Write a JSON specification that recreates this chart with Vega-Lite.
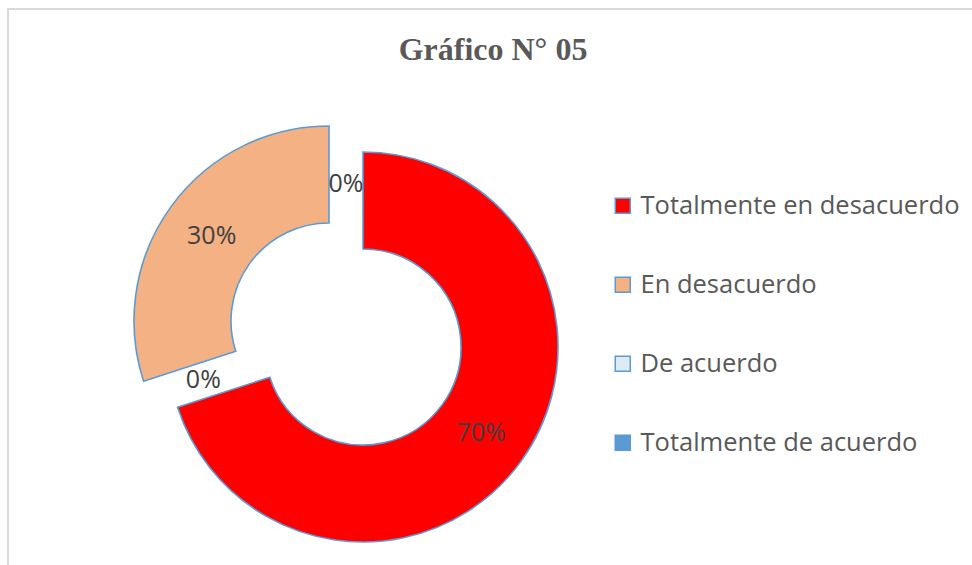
{
  "$schema": "https://vega.github.io/schema/vega-lite/v6.json",
  "width": 970,
  "height": 570,
  "autosize": {"type": "none"},
  "padding": {"left": 8, "top": 9, "right": 0, "bottom": 0},
  "background": "white",
  "config": {
    "view": {"stroke": null},
    "legend": {"symbolOpacity": 1}
  },
  "title": {
    "text": "Gráfico N° 05",
    "font": "Liberation Serif",
    "fontSize": 32,
    "fontWeight": "bold",
    "color": "#595959",
    "anchor": "middle",
    "baseline": "alphabetic",
    "offset": -84
  },
  "data": {
    "values": [
      {"cat": "Totalmente en desacuerdo", "pct": 0.70, "orden": 1},
      {"cat": "De acuerdo", "pct": 0.0, "orden": 2},
      {"cat": "En desacuerdo", "pct": 0.30, "orden": 3},
      {"cat": "Totalmente de acuerdo", "pct": 0.0, "orden": 4}
    ]
  },
  "encoding": {
    "theta": {"field": "pct", "type": "quantitative", "stack": true},
    "order": {"field": "orden", "type": "quantitative"}
  },
  "layer": [
    {
      "mark": {"type": "rect", "fill": null, "stroke": "#d9d9d9", "strokeWidth": 1.5},
      "encoding": {}
    },
    {
      "mark": {"type": "arc", "outerRadius": 195, "innerRadius": 98, "stroke": "#5B9BD5", "strokeWidth": 1.6, "xOffset": -130, "yOffset": 53},
      "encoding": {
        "color": {
          "field": "cat",
          "type": "nominal",
          "scale": {
            "domain": ["Totalmente en desacuerdo", "En desacuerdo", "De acuerdo", "Totalmente de acuerdo"],
            "range": ["#FF0000", "#F4B183", "#DEEBF7", "#5B9BD5"]
          },
          "legend": {
            "title": null,
            "orient": "none",
            "legendX": 602,
            "legendY": 184,
            "symbolType": "square",
            "symbolSize": 225,
            "symbolStrokeColor": "#5B9BD5",
            "symbolStrokeWidth": 1.5,
            "labelFont": "Open Sans",
            "labelFontSize": 25.5,
            "labelColor": "#595959",
            "labelLimit": 400,
            "rowPadding": 52,
            "labelOffset": 5
          }
        },
        "opacity": {"condition": {"test": "datum.cat === 'Totalmente en desacuerdo'", "value": 1}, "value": 0}
      }
    },
    {
      "mark": {"type": "arc", "outerRadius": 195, "innerRadius": 98, "stroke": "#5B9BD5", "strokeWidth": 1.6, "xOffset": -164, "yOffset": 27},
      "encoding": {
        "color": {"field": "cat", "type": "nominal"},
        "opacity": {"condition": {"test": "datum.cat === 'En desacuerdo'", "value": 1}, "value": 0}
      }
    },
    {
      "mark": {"type": "text", "radius": 146, "font": "Open Sans", "fontSize": 25, "color": "#404040", "xOffset": -130, "yOffset": 53},
      "encoding": {
        "text": {"field": "pct", "type": "quantitative", "format": ".0%"},
        "opacity": {"condition": {"test": "datum.cat === 'Totalmente en desacuerdo'", "value": 1}, "value": 0}
      }
    },
    {
      "mark": {"type": "text", "radius": 145, "font": "Open Sans", "fontSize": 25, "color": "#404040", "xOffset": -164, "yOffset": 27},
      "encoding": {
        "text": {"field": "pct", "type": "quantitative", "format": ".0%"},
        "opacity": {"condition": {"test": "datum.cat === 'En desacuerdo'", "value": 1}, "value": 0}
      }
    },
    {
      "mark": {"type": "text", "radius": 150, "font": "Open Sans", "fontSize": 25, "color": "#404040", "xOffset": -147, "yOffset": 40},
      "encoding": {
        "text": {"field": "pct", "type": "quantitative", "format": ".0%"},
        "opacity": {"condition": {"test": "datum.pct === 0", "value": 1}, "value": 0}
      }
    }
  ]
}
